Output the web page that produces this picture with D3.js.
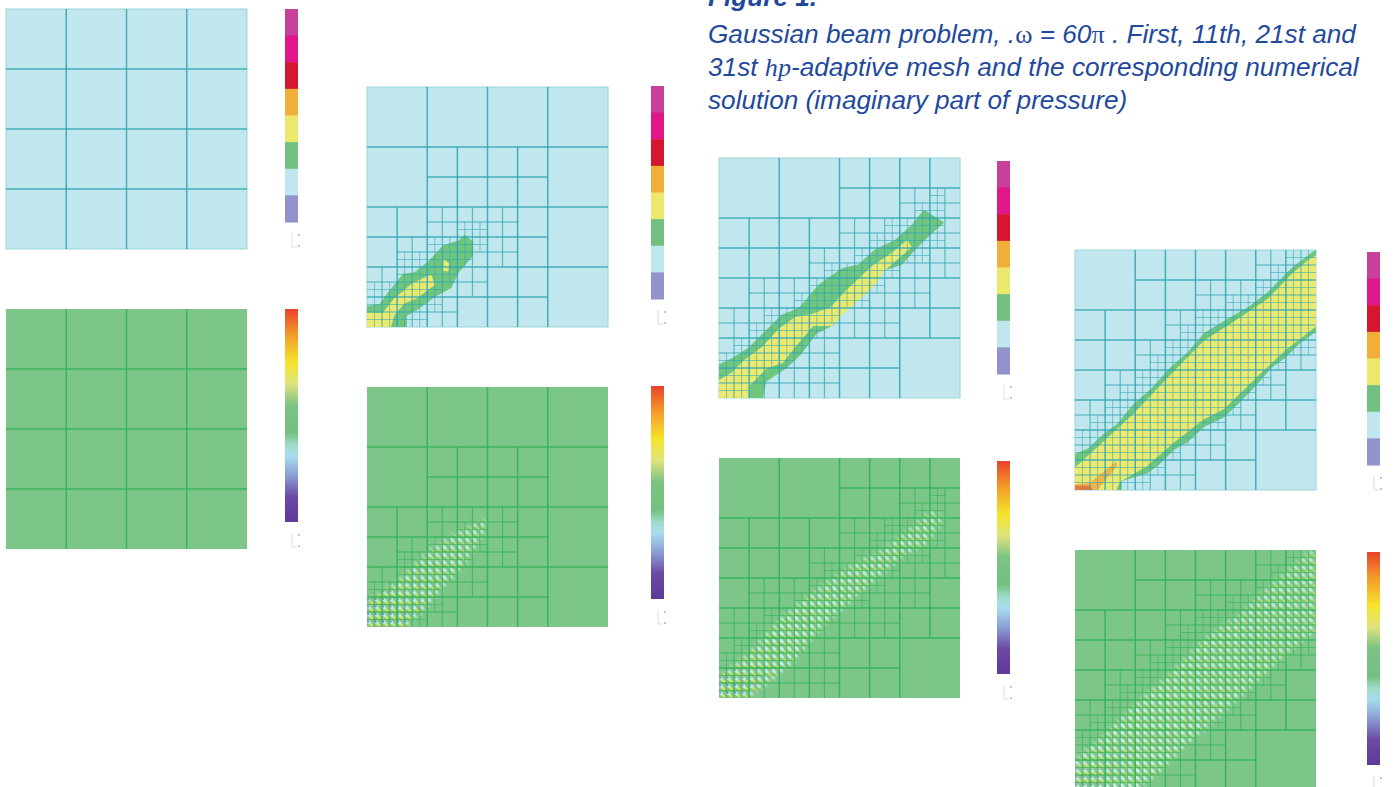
<!DOCTYPE html>
<html>
<head>
<meta charset="utf-8">
<script src="https://cdn.jsdelivr.net/npm/d3@7/dist/d3.min.js"></script>
<style>
html, body { margin: 0; padding: 0; background: #fff; overflow: hidden; }
svg { display: block; }
</style>
</head>
<body>
<div id="chart"></div>
<script>
// mesh refinement maps, "#" = cell of that size is split in four
const first8 = ["....", "....", "....", "...."];
const first4 = [];
const first2 = [];

const mesh11Split8 = ["....", ".##.", "###.", "###."];
const mesh11Split4 = ["........", "........", "........", "........",
    "..###...", ".####...", "####....", "###....."];
const mesh11Split2 = [
    "................", "................", "................", "................",
    "................", "................", "................", "................",
    "................", "......##........", "....####........", "..#####.........",
    "..####..........", "#####...........", "#####...........", "####............"];

const mesh21Split8 = ["..##", "####", "####", "###."];
const mesh21Split4 = ["........", "......##", "....####", "...#####",
    ".######.", "######..", "####....", "####...."];
const mesh21Split2 = [
    "................", "................", "..............#.", ".............##.",
    "...........####.", "..........#####.", ".........#####..", ".......#####....",
    "......#####.....", ".....#####......", "...#####........", "..#####.........",
    ".#####..........", "#####...........", "###.............", "##.............."];

const mesh31Split8 = [".###", "####", "####", "###."];
const mesh31Split4 = ["......##", "....####", "...#####", "..######",
    ".######.", "######..", "#####...", "####...."];
const mesh31Split2 = [
    "..............##", ".............###", "............####", "..........######",
    "........########", ".......#########", "......##########", ".....#########..",
    "....#########...", "...#########....", "..#########.....", ".#########......",
    "########........", "#######.........", "######..........", "#####..........."];

// pressure band outlines, read in mesh units (32 per side)
const mesh11Green = [[0,29.2],[1.7,28.9],[3,27.1],[4.8,24.9],[6.3,24.7],[8.3,23.1],[10.1,21.1],[12.1,20.5],[13,19.7],[14.1,20.6],[14.1,22.5],[12.2,24.7],[11.2,26.8],[9,28],[6.7,29.7],[5.3,30.5],[5.3,32],[0,32]];
const mesh11Yellow = [[0,30.1],[2.1,30.1],[3.5,28.3],[6.1,26.1],[8.1,25.2],[8.6,25.1],[9,26.4],[6.6,28.2],[4.9,28.9],[3.6,30.5],[3.2,32],[0,32]];
const mesh11YellowB = [[10.2,23],[10.9,23.5],[10.8,24.6],[10.1,24.5]];

const mesh21Green = [[0,27.5],[1.7,26.7],[3.9,25.3],[6.1,23.1],[8.3,20.9],[10.6,20],[13.2,16.9],[16.3,14.7],[18.5,14.2],[20.7,12.2],[23.4,10.9],[25.6,8.9],[27.2,6.9],[29.9,8.6],[28,10.3],[26.2,12.1],[24.2,14.3],[21.8,15],[19.6,17],[17.4,19.2],[15.2,22.3],[13,23.4],[10.8,26.3],[9,28],[6.3,29.8],[5.8,32],[0,32]];
const mesh21Yellow = [[0,29.6],[1.7,28.6],[3.5,26.8],[5.7,25.2],[7.9,22.8],[10.1,21.2],[12.3,20.8],[14.8,19.9],[16.8,17.7],[18.5,16.1],[20.3,14.4],[23,12.6],[25,10.9],[25.6,11.9],[23.6,13.6],[21.8,15.2],[20.5,17.2],[18.3,19.2],[16.7,20.6],[15,22.4],[12.5,22.4],[10.3,25],[8.5,27.3],[6.3,28.1],[4.1,30.3],[3.9,32],[0,32]];

const mesh31Green = [[0,27.2],[1.8,26.4],[3.8,24.5],[5.6,23.2],[7.8,20.5],[10.2,18.4],[12.7,15.6],[15,13.6],[17.1,11.1],[20.7,8.9],[23,7.6],[25.6,5.6],[28.75,2.4],[31.6,.2],[32,0],[32,10.9],[29.8,12.5],[27.9,14.4],[26,15.8],[24.3,17.8],[21.8,20.4],[19.8,22.3],[17.1,23.6],[15,25.6],[13.1,26.7],[11.2,28.6],[9.6,29.8],[6.2,30.8],[6.2,32],[0,32]];
const mesh31Yellow = [[0,29],[3.6,25.7],[7.8,21.8],[12.7,16.6],[17.1,12.1],[20.7,9.8],[25.6,6.5],[28.75,3.2],[31,1.3],[32,.7],[32,10.2],[27.9,13.4],[24.3,16.8],[19.8,21.2],[17.1,22.6],[13.1,25.7],[9.6,28.8],[6,30.9],[5.5,32],[0,32]];
const mesh31Orange = [[0,31.3],[2,31],[3.5,29.8],[5.5,28.2],[5.6,28.8],[4,30.7],[3,32],[0,32]];
const mesh31Red = [[0,31.4],[2,31.4],[2.4,32],[0,32]];

// oscillating part of the solution
const mesh11Wave = [[0,29.1],[3.5,26.5],[7.9,22],[11.9,19.4],[16,17.4],[15.8,18.9],[13.2,23.4],[9.6,27.3],[7.4,30],[4.8,32],[0,32]];
const mesh11Hot = [[0,28.5],[4,25.5],[8,22.5],[12,20.5],[9.5,26.5],[5.5,32],[0,32]];
const mesh21Wave = [[0,29.5],[3.9,26],[8.3,21.2],[12.8,17.6],[17.2,14.5],[21.6,12.3],[26,8.8],[28.3,6.8],[29.8,8.1],[27.8,11.4],[24.3,13.2],[20.8,16.3],[17.2,19.4],[13.7,22.5],[9.7,27.4],[6.6,30],[3.9,32],[0,32]];
const mesh21Hot = [[0,29],[3,26.5],[6,24.5],[9.5,24.5],[6.5,29],[3.5,32],[0,32]];
const mesh31Wave = [[0,27.9],[3.8,24.7],[8.2,20.3],[12.7,16.3],[17.1,11.8],[21.6,8.7],[26,4.6],[30.5,.6],[32,0],[32,10.9],[27.9,14],[23.8,18],[19.4,22],[14.9,26],[11.3,29.6],[8.2,32],[0,32]];
const mesh31Hot = [[0,29],[3,27],[6,25.5],[8.5,26.5],[5.5,30],[3.5,32],[0,32]];

// colour bars, top to bottom
const meshBarColors = ["#c8409c", "#e0148a", "#d6182f", "#f0b038", "#ece86c", "#72c07f", "#c0e6ee", "#9292cc"];
const fieldBarColors = ["#e8412a", "#f49a2c", "#f5e42a", "#dfe47c", "#7cc483", "#72c07f", "#a0dcc8", "#a8dcf0", "#8a9fd4", "#6b4aa5", "#5e3a98"];
const fieldBarStops = [0, .12, .25, .35, .45, .58, .64, .69, .78, .88, 1];

const captionTitle = "Figure 1.";
const captionLines = [
    [["Gaussian beam problem, .", 0], ["\u03c9", 1], [" = 60", 0], ["\u03c0", 1], [" . First, 11th, 21st and", 0]],
    [["31st ", 0], ["hp", 1], ["-adaptive mesh and the corresponding numerical", 0]],
    [["solution (imaginary part of pressure)", 0]]
];

const panelWidth = 241;
const panelHeight = 240;
const barWidth = 13;
const barHeight = 213;
const meshLine = "#2fa5b0";
const fieldLine = "#2db356";
const skyFill = "#c0e6ee";
const fieldFill = "#7cc68a";
const columns = [
    {x: 6, top: 9, bottom: 309, bar: 285, barTop: 9, barBottom: 309, maps: [first8, first4, first2]},
    {x: 367, top: 87, bottom: 387, bar: 651, barTop: 86, barBottom: 386, maps: [mesh11Split8, mesh11Split4, mesh11Split2],
        bands: [[mesh11Green, "#70c67e"], [mesh11Yellow, "#ebe96f"], [mesh11YellowB, "#ebe96f"]], wave: mesh11Wave, hot: mesh11Hot},
    {x: 719, top: 158, bottom: 458, bar: 997, barTop: 161, barBottom: 461, maps: [mesh21Split8, mesh21Split4, mesh21Split2],
        bands: [[mesh21Green, "#70c67e"], [mesh21Yellow, "#ebe96f"]], wave: mesh21Wave, hot: mesh21Hot},
    {x: 1075, top: 250, bottom: 550, bar: 1367, barTop: 252, barBottom: 552, maps: [mesh31Split8, mesh31Split4, mesh31Split2],
        bands: [[mesh31Green, "#70c67e"], [mesh31Yellow, "#ebe96f"], [mesh31Orange, "#f0b544"], [mesh31Red, "#e8793a"]], wave: mesh31Wave, hot: mesh31Hot}
];

const svg = d3.select("#chart").append("svg")
    .attr("width", 1397)
    .attr("height", 787);
const defs = svg.append("defs");

const x = d3.scaleLinear().domain([0, 32]).range([0, panelWidth]);
const y = d3.scaleLinear().domain([0, 32]).range([0, panelHeight]);
const outline = d3.line().x(d => x(d[0])).y(d => y(d[1]));

function addBlur(id, amount) {
    defs.append("filter")
        .attr("id", id)
        .attr("x", "-10%").attr("y", "-10%")
        .attr("width", "120%").attr("height", "120%")
        .append("feGaussianBlur")
        .attr("stdDeviation", amount);
}
addBlur("soft", 0.6);
addBlur("band", 0.6);
addBlur("texture", 0.75);
addBlur("maskBlur", 2.2);

//wave texture, one tile per smallest mesh cell
function addWavePattern(id, spots) {
    let tile = x(1);
    let pattern = defs.append("pattern")
        .attr("id", id)
        .attr("patternUnits", "userSpaceOnUse")
        .attr("width", tile)
        .attr("height", tile);
    spots.forEach(s => {
        pattern.append("ellipse")
            .attr("rx", tile * s[2])
            .attr("ry", tile * s[3])
            .attr("fill", s[4])
            .attr("transform", "translate(" + tile * s[0] + "," + tile * s[1] + ") rotate(45)");
    });
}
addWavePattern("wavePale", [[.3, .3, .38, .21, "#d0efe8"], [.78, .78, .36, .11, "#e0e45a"]]);
addWavePattern("waveHot", [[.3, .3, .34, .17, "#b5e3e6"], [.72, .72, .42, .14, "#f4e82a"], [.02, .02, .32, .1, "#123f86"], [1, 1, .32, .1, "#123f86"]]);

const fade = defs.append("linearGradient")
    .attr("id", "waveFade")
    .attr("x1", 0).attr("y1", 1).attr("x2", 1).attr("y2", 0);
fade.append("stop").attr("offset", 0).attr("stop-color", "#fff");
fade.append("stop").attr("offset", 1).attr("stop-color", "#ccc");

const hotFade = defs.append("linearGradient")
    .attr("id", "hotFade")
    .attr("x1", 0).attr("y1", 1).attr("x2", 1).attr("y2", 0);
hotFade.append("stop").attr("offset", 0).attr("stop-color", "#fff");
hotFade.append("stop").attr("offset", 0.45).attr("stop-color", "#555");
hotFade.append("stop").attr("offset", 1).attr("stop-color", "#000");

function splitCells(map, size) {
    return map.flatMap((row, r) => [...row].flatMap((ch, c) =>
        ch === "#" ? [{x: c * size, y: r * size, size: size}] : []));
}

function drawMesh(g, maps, color) {
    let cells = [{x: 0, y: 0, size: 32}, {x: 0, y: 0, size: 16}, {x: 16, y: 0, size: 16}, {x: 0, y: 16, size: 16}, {x: 16, y: 16, size: 16}]
        .concat(splitCells(maps[0], 8), splitCells(maps[1], 4), splitCells(maps[2], 2));
    let segments = cells.flatMap(c => [
        {x1: c.x + c.size / 2, y1: c.y, x2: c.x + c.size / 2, y2: c.y + c.size, size: c.size},
        {x1: c.x, y1: c.y + c.size / 2, x2: c.x + c.size, y2: c.y + c.size / 2, size: c.size}
    ]);
    g.selectAll("line.mesh").data(segments).join("line")
        .attr("class", "mesh")
        .attr("x1", d => x(d.x1)).attr("y1", d => y(d.y1))
        .attr("x2", d => x(d.x2)).attr("y2", d => y(d.y2))
        .attr("stroke", color)
        .attr("stroke-width", d => d.size <= 2 ? 1 : (d.size <= 4 ? 1.2 : 1.5))
        .attr("stroke-opacity", d => d.size <= 2 ? 0.55 : (d.size <= 4 ? 0.7 : 0.85));
}

function drawPanel(px, py) {
    let g = svg.append("g")
        .attr("transform", "translate(" + px + "," + py + ")");
    return g;
}

function drawMeshPanel(col, index) {
    let g = drawPanel(col.x, col.top);
    g.append("rect")
        .attr("width", x(32)).attr("height", y(32))
        .attr("fill", skyFill)
        .attr("stroke", "#9ad6d6")
        .attr("stroke-width", 1);
    let bands = g.append("g").attr("filter", "url(#band)");
    (col.bands || []).forEach(b => {
        bands.append("path")
            .attr("d", outline(b[0]) + "Z")
            .attr("fill", b[1]);
    });
    drawMesh(g.append("g").attr("filter", "url(#soft)"), col.maps, meshLine);
}

function drawFieldPanel(col, index) {
    let g = drawPanel(col.x, col.bottom);
    g.append("rect")
        .attr("width", x(32)).attr("height", y(32))
        .attr("fill", fieldFill)
        .attr("filter", "url(#soft)");
    if (col.wave) {
        let waveMask = "waveMask" + index, hotMask = "hotMask" + index, clip = "panelClip" + index;
        defs.append("clipPath").attr("id", clip).append("rect")
            .attr("width", x(32)).attr("height", y(32));
        defs.append("mask").attr("id", waveMask)
            .attr("maskUnits", "userSpaceOnUse")
            .attr("x", 0).attr("y", 0)
            .attr("width", x(32)).attr("height", y(32))
            .append("path")
            .attr("d", outline(col.wave) + "Z")
            .attr("fill", "url(#waveFade)")
            .attr("filter", "url(#maskBlur)");
        defs.append("mask").attr("id", hotMask)
            .attr("maskUnits", "userSpaceOnUse")
            .attr("x", 0).attr("y", 0)
            .attr("width", x(32)).attr("height", y(32))
            .append("path")
            .attr("d", outline(col.hot) + "Z")
            .attr("fill", "url(#hotFade)")
            .attr("filter", "url(#maskBlur)");
        let tex = g.append("g").attr("clip-path", "url(#" + clip + ")");
        let soft = tex.append("g").attr("filter", "url(#texture)");
        soft.append("rect")
            .attr("width", x(32)).attr("height", y(32))
            .attr("fill", "url(#wavePale)")
            .attr("mask", "url(#" + waveMask + ")");
        soft.append("rect")
            .attr("width", x(32)).attr("height", y(32))
            .attr("fill", "url(#waveHot)")
            .attr("mask", "url(#" + hotMask + ")");
    }
    drawMesh(g.append("g").attr("filter", "url(#soft)"), col.maps, fieldLine);
}

function drawGlyph(g, top) {
    let glyph = g.append("g").attr("transform", "translate(7," + top + ")");
    glyph.append("path")
        .attr("d", "M0,0V14H5")
        .attr("fill", "none")
        .attr("stroke", "#dcdcdc");
    glyph.append("circle").attr("cx", 7).attr("cy", 2).attr("r", 1).attr("fill", "#b5b5b5");
    glyph.append("circle").attr("cx", 7).attr("cy", 13).attr("r", 1).attr("fill", "#b5b5b5");
}

function drawMeshBar(col) {
    let g = svg.append("g").attr("transform", "translate(" + col.bar + "," + col.barTop + ")");
    let band = d3.scaleBand().domain(d3.range(meshBarColors.length)).range([0, barHeight]);
    g.append("g").attr("filter", "url(#soft)")
        .selectAll("rect").data(meshBarColors).join("rect")
        .attr("y", (d, i) => band(i))
        .attr("width", barWidth)
        .attr("height", band.bandwidth() + 0.5)
        .attr("fill", d => d);
    drawGlyph(g, barHeight + 11);
}

function drawFieldBar(col, index) {
    let id = "fieldRamp" + index;
    let ramp = defs.append("linearGradient")
        .attr("id", id)
        .attr("x1", 0).attr("y1", 0).attr("x2", 0).attr("y2", 1);
    ramp.selectAll("stop").data(fieldBarColors).join("stop")
        .attr("offset", (d, i) => fieldBarStops[i])
        .attr("stop-color", d => d);
    let g = svg.append("g").attr("transform", "translate(" + col.bar + "," + col.barBottom + ")");
    g.append("rect")
        .attr("width", barWidth)
        .attr("height", barHeight)
        .attr("fill", "url(#" + id + ")")
        .attr("filter", "url(#soft)");
    drawGlyph(g, barHeight + 11);
}

columns.forEach((col, i) => {
    drawMeshPanel(col, i);
    drawFieldPanel(col, i);
    drawMeshBar(col);
    drawFieldBar(col, i);
});

//caption
const caption = svg.append("g")
    .attr("fill", "#1f4a9c")
    .attr("font-family", "'Liberation Sans', Arial, sans-serif")
    .attr("font-style", "italic")
    .attr("font-size", 26.2);
caption.append("text")
    .attr("x", 708).attr("y", 6)
    .attr("font-weight", "bold")
    .text(captionTitle);
caption.selectAll("text.line").data(captionLines).join("text")
    .attr("class", "line")
    .attr("x", 708)
    .attr("y", (d, i) => 43 + i * 33)
    .each(function (parts) {
        d3.select(this).selectAll("tspan").data(parts).join("tspan")
            .attr("font-family", d => d[1] ? "'Liberation Serif', serif" : null)
            .attr("font-style", d => d[1] ? (d[0] === "hp" ? "italic" : "normal") : null)
            .text(d => d[0]);
    });
</script>
</body>
</html>
